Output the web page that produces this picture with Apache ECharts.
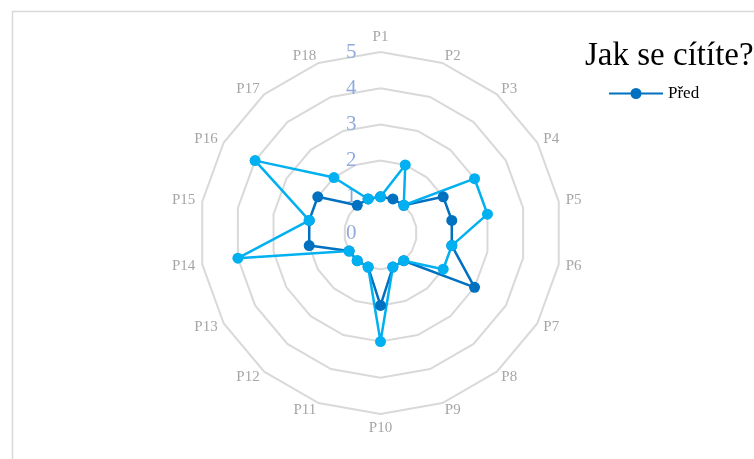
<!DOCTYPE html>
<html>
<head>
<meta charset="utf-8">
<script src="https://cdn.jsdelivr.net/npm/echarts@6/dist/echarts.min.js"></script>
<style>html,body{margin:0;padding:0;background:#fff;}#c{width:754px;height:459px;}</style>
</head>
<body>
<div id="c"></div>
<script>
const categories = ['P1','P2','P3','P4','P5','P6','P7','P8','P9','P10','P11','P12','P13','P14','P15','P16','P17','P18'];
const pred = [1,1,1,2,2,2,3,1,1,2,1,1,1,2,2,2,1,1];
const po   = [1,2,1,3,3,2,2,1,1,3,1,1,1,4,2,4,2,1];
const titleText = 'Jak se cítíte?';
const seriesNames = ['Před','Po'];

// ECharts radar runs counter-clockwise; reorder so that P1..P18 go clockwise.
const order = [0].concat(categories.map((_, i) => i).slice(1).reverse());
const reorder = arr => order.map(i => arr[i]);

const chart = echarts.init(document.getElementById('c'));
const indicators = order.map((idx, k) => {
  const o = { name: categories[idx], min: 0, max: 5 };
  if (k !== 0) o.axisLabel = { show: false };
  return o;
});
const legendIcon = 'path://M0,4.4H22V6.6H0Z M32,4.4H54V6.6H32Z M21.5,5.5A5.5,5.5,0,1,1,32.5,5.5A5.5,5.5,0,1,1,21.5,5.5Z';
chart.setOption({
  animation: false,
  backgroundColor: '#fff',
  title: {
    text: titleText, left: 585, top: 40, padding: 0,
    textStyle: { fontFamily: 'Liberation Serif', fontSize: 33, fontWeight: 'normal', color: '#000' }
  },
  legend: {
    data: [{ name: seriesNames[0], icon: legendIcon }], left: 609, top: 85, padding: 0,
    itemWidth: 54, itemHeight: 11, itemGap: 4,
    textStyle: { fontFamily: 'Liberation Serif', fontSize: 17, color: '#000' }
  },
  graphic: [{
    type: 'rect', shape: { x: 12.5, y: 11.5, width: 800, height: 500 },
    style: { fill: 'none', stroke: '#d9d9d9', lineWidth: 1.5 }, silent: true
  }],
  radar: {
    center: [380.5, 233], radius: 181, startAngle: 90, shape: 'polygon', splitNumber: 5,
    indicator: indicators,
    nameGap: 7,
    axisName: { color: '#a6a6a6', fontFamily: 'Liberation Serif', fontSize: 15 },
    axisLine: { show: false },
    axisTick: { show: false },
    splitLine: { lineStyle: { color: '#d9d9d9', width: 2 } },
    splitArea: { show: false },
    axisLabel: { show: true, fontFamily: 'Liberation Serif', fontSize: 21, color: '#8faadc', margin: 24 }
  },
  series: [
    { type: 'radar', name: seriesNames[0], symbol: 'circle', symbolSize: 11,
      itemStyle: { color: '#0070C0' }, lineStyle: { color: '#0070C0', width: 2.5 },
      data: [{ value: reorder(pred), name: seriesNames[0] }] },
    { type: 'radar', name: seriesNames[1], symbol: 'circle', symbolSize: 11,
      itemStyle: { color: '#00B0F0' }, lineStyle: { color: '#00B0F0', width: 2.5 },
      data: [{ value: reorder(po), name: seriesNames[1] }] }
  ]
});
</script>
</body>
</html>
